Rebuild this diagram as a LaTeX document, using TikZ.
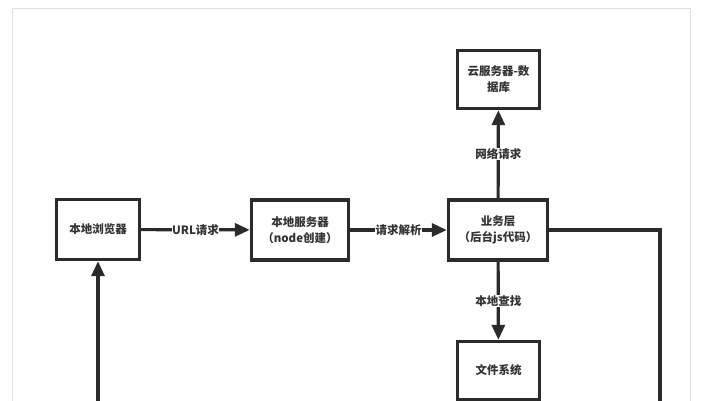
\documentclass[tikz,border=0pt]{standalone}
\usepackage{fontspec}
\newfontfamily\cjk{Noto Sans CJK SC}
\usetikzlibrary{arrows.meta}
\definecolor{lnclr}{HTML}{2B2B2B}
\definecolor{txclr}{HTML}{333333}

\begin{document}
\begin{tikzpicture}[x=1pt,y=-1pt]
	\tikzstyle{every node}=[font=\cjk\bfseries\fontsize{11.5}{16}\selectfont, text=txclr]
	\tikzstyle{blk}=[draw=lnclr, line width=3.4pt, fill=white, align=center, minimum height=58pt]
	\tikzstyle{lbl}=[fill=white, inner sep=0.5pt]
	\tikzstyle{conn}=[draw=lnclr, line width=3.2pt, -{Triangle[length=15pt,width=13pt]}]

	\useasboundingbox (0,0) rectangle (702,400);
	\clip (0,0) rectangle (702,400);
	% outer frame of the screenshot
	\draw [gray!25, line width=1pt] (12,8) rectangle (690,430);

	\node [blk, minimum width=83pt, minimum height=60pt] (browser) at (98,229.5) {本地浏览器};
	\node [blk, minimum width=97pt, minimum height=60pt] (localsrv) at (300,230) {本地服务器\\（node创建）};
	\node [blk, minimum width=99pt, minimum height=60pt] (biz) at (498,230) {业务层\\（后台js代码）};
	\node [blk, minimum width=82pt] (cloud) at (498.5,79.5) {云服务器-数\\据库};
	\node [blk, minimum width=82pt] (files) at (498.5,370.5) {文件系统};

	\draw [conn] (browser) -- (localsrv) node [lbl, midway] {URL请求};
	\draw [conn] (localsrv) -- (biz) node [lbl, midway] {请求解析};
	\draw [conn] (biz) -- (cloud) node [lbl, midway] {网络请求};
	\draw [conn] (biz) -- (files) node [lbl, midway] {本地查找};

	% return path, runs on below the visible part
	\coordinate (rb) at (660,440);
	\draw [conn] (biz.east) -| (rb) -| (browser.south);
\end{tikzpicture}
\end{document}
